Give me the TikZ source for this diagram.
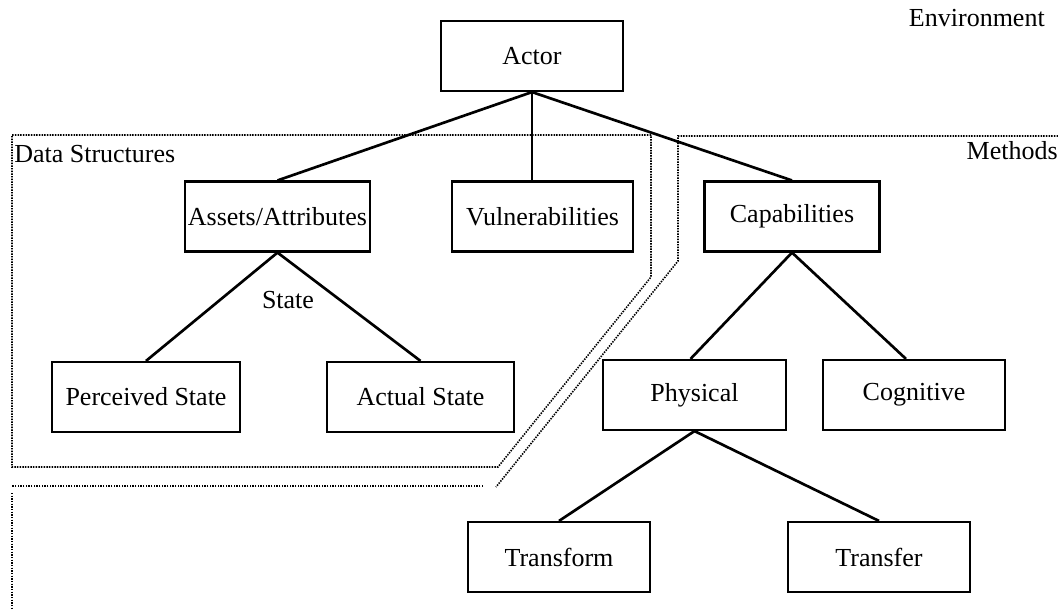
\documentclass[tikz,border=0pt]{standalone}
\usepackage{fontspec}
\setmainfont{Liberation Serif}
\begin{document}
\begin{tikzpicture}[x=0.75pt,y=-0.75pt,
  box/.style={draw,line width=1.6pt,inner sep=0pt,minimum width=136.5pt,minimum height=52.5pt,font=\fontsize{19.5}{23}\selectfont},
  conn/.style={line width=2pt},
  region/.style={line width=1.2pt,dash pattern=on 1.1pt off 0.9pt},
  lbl/.style={inner sep=0pt,font=\fontsize{19.5}{23}\selectfont}]
\useasboundingbox (0,0) rectangle (1058,608);
% nodes
\node[box] (actor) at (532,56) {Actor};
\node[box,minimum width=138.75pt] (assets) at (277.5,216.5) {Assets/Attributes};
\node[box,minimum width=135.75pt] (vuln) at (542.5,216.5) {Vulnerabilities};
\node[box,minimum width=131.25pt] (cap) at (792,216.5) {Capabilities};
\node[box,minimum width=141pt] (perc) at (146,397) {Perceived State};
\node[box,minimum width=140.25pt] (act) at (420.5,397) {Actual State};
\node[box,minimum width=137.25pt] (phys) at (694.5,395) {Physical};
\node[box] (cogn) at (914,395) {Cognitive};
\node[box] (transform) at (559,557) {Transform};
\node[box] (transfer) at (879,557) {Transfer};
% labels
\node[lbl,anchor=east] (env) at (1045,18) {Environment};
\node[lbl,anchor=west] (ds) at (14,154) {Data Structures};
\node[lbl,anchor=east] (meth) at (1058,151) {Methods};
\node[lbl] (state) at (288,300) {State};
% connectors
\draw[conn] (actor.south) -- (assets.north);
\draw[conn] (actor.south) -- (actor.south |- vuln.north);
\draw[conn] (actor.south) -- (cap.north);
\draw[conn] (assets.south) -- (perc.north);
\draw[conn] (assets.south) -- (act.north);
\draw[conn] (cap.south) -- ([xshift=-3pt]phys.north);
\draw[conn] (cap.south) -- ([xshift=-6pt]cogn.north);
\draw[conn] (phys.south) -- (transform.north);
\draw[conn] (phys.south) -- (transfer.north);
% regions
\coordinate (d1) at (12,135);
\coordinate (d2) at (651,135);
\coordinate (d3) at (651,277);
\coordinate (d4) at (498,467);
\coordinate (d5) at (12,467);
\draw[region] (d2) -- (d1) -- (d5) -- (d4) -- (d3) -- (d2);
\coordinate (m1) at (1058,136);
\coordinate (m2) at (678,136);
\coordinate (m3) at (678,261);
\coordinate (m4) at (496,487);
\coordinate (m5) at (483,486);
\coordinate (m6) at (12,486);
\coordinate (m7) at (12,493);
\coordinate (m8) at (12,608);
\draw[region] (m1) -- (m2) -- (m3) -- (m4);
\draw[region] (m5) -- (m6);
\draw[region] (m7) -- (m8);
\end{tikzpicture}
\end{document}
